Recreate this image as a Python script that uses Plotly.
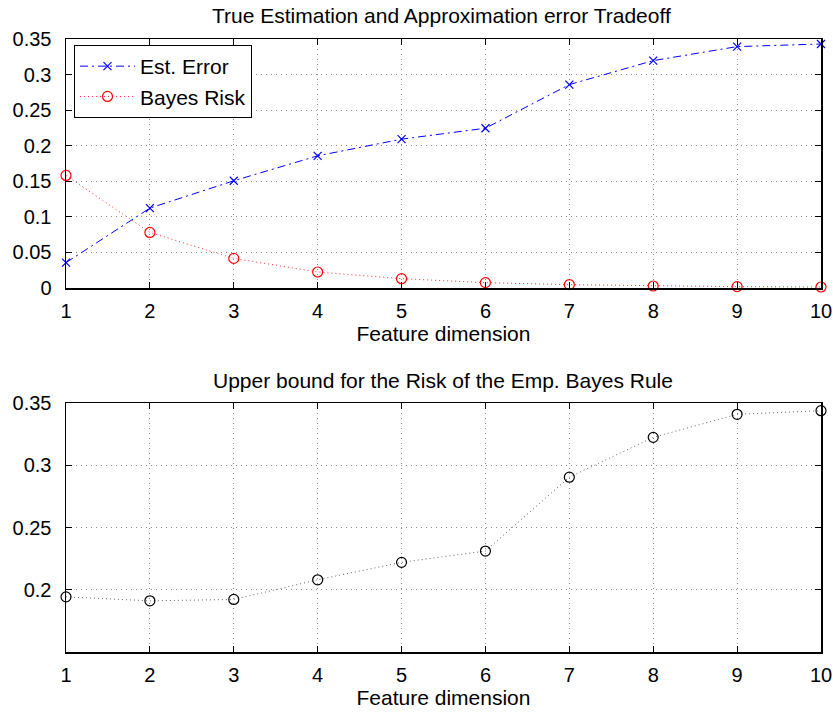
import plotly.graph_objects as go

dims = [1, 2, 3, 4, 5, 6, 7, 8, 9, 10]
est_error = [0.0356, 0.1123, 0.1507, 0.1858, 0.2092, 0.2246, 0.2859, 0.3196, 0.3393, 0.3430]
bayes_risk = [0.1582, 0.0781, 0.0416, 0.0225, 0.0131, 0.0075, 0.0047, 0.0028, 0.0019, 0.0014]
upper_bound = [0.1943, 0.1911, 0.1922, 0.2080, 0.2220, 0.2311, 0.2904, 0.3224, 0.3409, 0.3438]

top_title = "True Estimation and Approximation error Tradeoff"
bottom_title = "Upper bound for the Risk of the Emp. Bayes Rule"
x_title = "Feature dimension"
top_yticks = [0, 0.05, 0.1, 0.15, 0.2, 0.25, 0.3, 0.35]
top_yticklabels = ["0", "0.05", "0.1", "0.15", "0.2", "0.25", "0.3", "0.35"]
bottom_yticks = [0.2, 0.25, 0.3, 0.35]
bottom_yticklabels = ["0.2", "0.25", "0.3", "0.35"]

FONT = "Liberation Sans, Arial, Helvetica, sans-serif"
FS = 21
TFS = 20
W, H = 833, 718


def px_x(p):
    return p / W


def px_y(p):
    return 1 - p / H


fig = go.Figure()

fig.add_trace(go.Scatter(
    x=dims, y=est_error, name="Est. Error", mode="lines+markers",
    line=dict(color="#0000ff", width=1, dash="8px,4px,2px,4px"),
    marker=dict(symbol="x-thin-open", size=8, color="#0000ff", line=dict(color="#0000ff", width=1.2)),
    cliponaxis=False, xaxis="x", yaxis="y"))
fig.add_trace(go.Scatter(
    x=dims, y=bayes_risk, name="Bayes Risk", mode="lines+markers",
    line=dict(color="#ff3030", width=1, dash="1px,3px"),
    marker=dict(symbol="circle-open", size=10, color="#ff0000", line=dict(color="#ff0000", width=1.2)),
    cliponaxis=False, xaxis="x", yaxis="y"))
fig.add_trace(go.Scatter(
    x=dims, y=upper_bound, name="Upper bound", mode="lines+markers", showlegend=False,
    line=dict(color="#666666", width=1, dash="1px,3px"),
    marker=dict(symbol="circle-open", size=10, color="#000000", line=dict(color="#000000", width=1.2)),
    cliponaxis=False, xaxis="x2", yaxis="y2"))

axis_common = dict(
    showline=True, linecolor="black", linewidth=1.5, mirror="ticks",
    ticks="inside", ticklen=6, tickwidth=1, tickcolor="black",
    showgrid=True, gridcolor="#8a8a8a", gridwidth=1, griddash="1px,4px",
    zeroline=False, automargin=False,
    tickfont=dict(family=FONT, size=TFS, color="black"),
)

xdom = [px_x(66), px_x(821)]

fig.update_layout(
    width=W, height=H,
    margin=dict(l=0, r=0, t=0, b=0),
    paper_bgcolor="white", plot_bgcolor="white",
    font=dict(family=FONT, size=FS, color="black"),
    xaxis=dict(domain=xdom, range=[1, 10], tickvals=dims, anchor="y",
               title=dict(text=x_title, font=dict(family=FONT, size=FS), standoff=6),
               ticklabelstandoff=4, **axis_common),
    yaxis=dict(domain=[px_y(288), px_y(39)], range=[0, 0.35], tickvals=top_yticks,
               ticktext=top_yticklabels, anchor="x", ticklabelstandoff=9, **axis_common),
    xaxis2=dict(domain=xdom, range=[1, 10], tickvals=dims, anchor="y2",
                title=dict(text=x_title, font=dict(family=FONT, size=FS), standoff=6),
                ticklabelstandoff=4, **axis_common),
    yaxis2=dict(domain=[px_y(652), px_y(403)], range=[0.15, 0.35], tickvals=bottom_yticks,
                ticktext=bottom_yticklabels, anchor="x2", ticklabelstandoff=9, **axis_common),
    legend=dict(x=px_x(74), y=px_y(45), xanchor="left", yanchor="top",
                bordercolor="black", borderwidth=1, bgcolor="white",
                font=dict(family=FONT, size=21), tracegroupgap=0, itemwidth=55),
    showlegend=True,
    annotations=[
        dict(text=top_title, x=px_x(441), y=px_y(16), xref="paper", yref="paper",
             showarrow=False, xanchor="center", yanchor="middle", font=dict(family=FONT, size=FS)),
        dict(text=bottom_title, x=px_x(443), y=px_y(380), xref="paper", yref="paper",
             showarrow=False, xanchor="center", yanchor="middle", font=dict(family=FONT, size=FS)),
    ],
)

fig.write_html("out.html",
               config={"displayModeBar": False, "staticPlot": True},
               post_script="document.body.style.margin='0';document.body.style.overflow='hidden';")
